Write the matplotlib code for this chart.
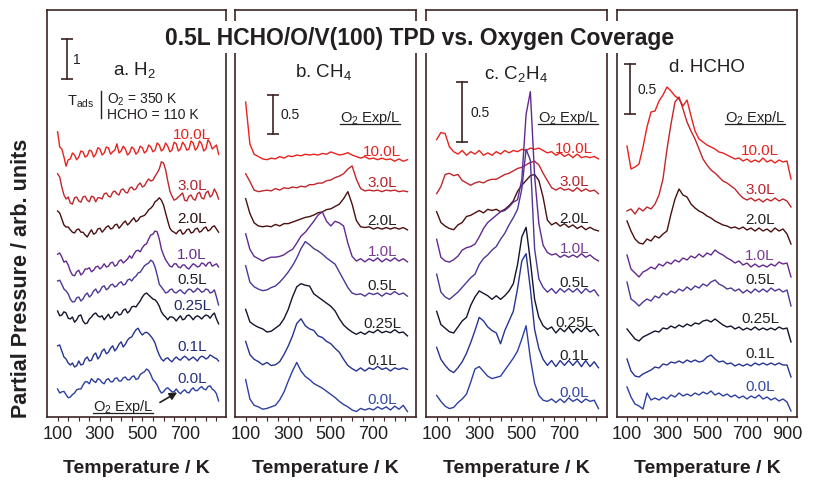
import numpy as np
import matplotlib
matplotlib.use('Agg')
import matplotlib.pyplot as plt
from matplotlib.lines import Line2D
from matplotlib.transforms import IdentityTransform

plt.rcParams['font.family'] = ['Liberation Sans', 'DejaVu Sans']
plt.rcParams['mathtext.fontset'] = 'custom'
plt.rcParams['mathtext.rm'] = 'Liberation Sans'
plt.rcParams['mathtext.it'] = 'Liberation Sans:italic'
plt.rcParams['mathtext.bf'] = 'Liberation Sans:bold'

# ---- data (signals, arb. units; offsets = stacking baseline) ----
exposures = ['10.0L', '3.0L', '2.0L', '1.0L', '0.5L', '0.25L', '0.1L', '0.0L']

T_a = np.arange(100, 861, 10)     # temperature grid for H2 (K)
T_bc = np.arange(100, 861, 20)    # temperature grid for CH4, C2H4 (K)
T_d = np.arange(100, 921, 20)     # temperature grid for HCHO (K)

# a. H2
h2_10 = [0.68,0.3,0.25,0.05,-0.18,-0.02,0,0.15,0.1,-0.02,
         0.05,0.2,0.18,0.05,0.08,0.22,0.2,0.05,0.12,0.28,
         0.25,0.1,0.15,0.3,0.28,0.12,0.18,0.22,0.38,0.15,
         0.2,0.32,0.25,0.1,0.15,0.3,0.25,0.12,0.18,0.32,
         0.28,0.15,0.2,0.35,0.3,0.18,0.22,0.4,0.35,0.2,
         0.25,0.4,0.32,0.18,0.22,0.42,0.38,0.2,0.25,0.42,
         0.35,0.22,0.25,0.45,0.4,0.22,0.28,0.45,0.38,0.2,
         0.25,0.48,0.4,0.25,0.3,0.35,0.12]
h2_3 = [0.68,0.6,0.35,0.15,0.05,0.1,-0.05,-0.08,0.08,0.1,
        0,-0.03,0.1,0.12,0.02,-0.02,0.12,0.1,-0.02,0.08,
        0.08,0.05,0.18,0.2,0.12,0.1,0.22,0.25,0.18,0.15,
        0.28,0.3,0.22,0.2,0.32,0.35,0.28,0.3,0.4,0.45,
        0.35,0.38,0.48,0.55,0.5,0.52,0.62,0.7,0.8,0.98,
        0.95,0.78,0.5,0.25,0.12,0.02,0.05,0.1,0.15,0.2,
        0.02,0,0.12,0.15,0.05,0.02,0.18,0.22,0.08,0.05,
        0.2,0.25,0.1,0.15,0.3,0.2,0.05]
h2_2 = [0.55,0.5,0.35,0.2,0.15,0.15,0.08,0.02,0,0.08,
        0.1,0.02,0.02,-0.05,-0.1,0,0.08,-0.03,0,0.1,
        0.12,0.02,0.08,0.15,0.18,0.1,0.12,0.2,0.22,0.12,
        0.18,0.25,0.3,0.2,0.25,0.32,0.38,0.28,0.32,0.4,
        0.42,0.44,0.5,0.58,0.62,0.68,0.78,0.82,0.88,0.82,
        0.7,0.5,0.3,0.12,0.05,0.02,-0.02,0.05,0.08,-0.03,
        0,0.08,0.1,0,0.02,0.1,0.12,0.02,0.05,0.12,
        0.15,0.05,0.08,0.15,0.18,0.1,0.02]
h2_1 = [0.42,0.45,0.35,0.22,0.25,0.15,0,-0.1,-0.12,-0.02,
        0.02,-0.1,-0.05,0.05,0.05,0.08,-0.02,0.02,0.1,0.12,
        0.05,0.1,0.18,0.1,0.12,0.2,0.22,0.12,0.15,0.25,
        0.28,0.2,0.25,0.3,0.38,0.32,0.42,0.5,0.52,0.48,
        0.58,0.65,0.68,0.8,0.9,0.92,1.0,0.98,0.8,0.55,
        0.4,0.28,0.2,0.12,0.1,0.18,0.18,0.1,0.08,0.15,
        0.15,0.08,0.05,0.12,0.18,0.15,0.1,0.12,0.2,0.18,
        0.12,0.2,0.22,0.12,0.15,0.18,0.1]
h2_05 = [0.4,0.42,0.32,0.2,0.15,0.08,-0.05,-0.12,-0.12,-0.02,
         0,-0.1,-0.05,0.05,0.1,0,0.05,0.15,0.2,0.1,
         0.15,0.25,0.28,0.18,0.22,0.3,0.32,0.25,0.28,0.35,
         0.38,0.3,0.32,0.42,0.45,0.4,0.48,0.52,0.6,0.62,
         0.7,0.78,0.82,0.85,0.92,0.88,0.75,0.55,0.32,0.25,
         0.18,0.1,0.12,0.18,0.2,0.12,0.1,0.15,0.18,0.12,
         0.08,0.15,0.2,0.18,0.12,0.15,0.22,0.18,0.12,0.14,
         0.2,0.18,0.1,0.12,0.18,0,-0.2]
h2_025 = [0.2,0.08,0.1,0.18,0.15,0.02,0,0.05,-0.08,-0.02,
          0.08,0.1,-0.05,-0.12,-0.1,0,0.05,0.12,0.15,0.08,
          0.05,0.08,-0.02,0.05,0.12,0.02,0.05,0.15,0.18,0.1,
          0.12,0.22,0.25,0.15,0.2,0.3,0.32,0.3,0.38,0.45,
          0.55,0.62,0.65,0.6,0.55,0.5,0.48,0.42,0.32,0.18,
          0.1,0.05,-0.02,0.05,0.05,0.02,-0.05,0.02,0.08,-0.02,
          0,0.08,0.1,0.05,-0.02,0.05,0.08,0.05,0,0.06,
          0.1,0.08,0.02,0.1,0.15,0,-0.12]
h2_01 = [0.38,0.4,0.25,0.1,0.05,-0.05,-0.1,-0.05,-0.15,-0.12,
         0,-0.1,-0.08,0.05,0.1,0,0.02,0.15,0.2,0.05,
         0.12,0.25,0.3,0.18,0.22,0.32,0.38,0.25,0.32,0.42,
         0.48,0.35,0.42,0.52,0.58,0.6,0.7,0.78,0.82,0.72,
         0.65,0.7,0.72,0.68,0.62,0.55,0.45,0.28,0.15,0.05,
         0,0.06,0.08,0.02,-0.02,0.05,0.1,0.05,0.02,0.08,
         0.12,0.08,0.02,0.06,0.1,0.05,0,0.08,0.12,0.1,
         0.05,0.08,0.15,0.12,0.08,0.06,0]
h2_00 = [0.12,0.02,0.05,0.06,-0.02,-0.1,-0.08,-0.02,0.02,0.1,
         0.12,0.12,0.22,0.3,0.3,0.25,0.38,0.32,0.28,0.38,
         0.35,0.28,0.25,0.35,0.38,0.3,0.3,0.38,0.4,0.32,
         0.32,0.4,0.42,0.35,0.35,0.42,0.45,0.36,0.38,0.48,
         0.52,0.55,0.62,0.58,0.48,0.35,0.3,0.22,0.1,0.02,
         0.05,0.12,0.15,0.1,0.05,0.05,0.12,0.05,0,0.06,
         0.1,0.04,0.02,0.1,0.15,0.08,0.08,0.14,0.18,0.12,
         0.1,0.18,0.2,0.12,0.08,0,-0.18]
h2_offsets = [6.45, 5.4, 4.6, 3.65, 3.0, 2.45, 1.4, 0.58]

# b. CH4
ch4_10 = [0.73,0.19,0.06,0.03,0,-0.01,0.01,0,0.03,0.01,0.04,0.03,0.05,0.04,0.06,0.05,0.06,0.05,0.07,0.06,0.09,0.07,0.05,0.06,0.08,0.05,0.03,0.01,0.03,0,0.01,-0.01,0.01,-0.01,0,-0.03,0,-0.03,-0.01]
ch4_3 = [0.22,0.12,0.01,-0.01,0,0.01,0,0.03,0.01,0.04,0.03,0.05,0.04,0.06,0.05,0.08,0.08,0.1,0.1,0.13,0.14,0.17,0.19,0.22,0.28,0.32,0.15,0.03,0,0.01,0,0.01,-0.01,0.01,0,0.01,-0.01,0,-0.01]
ch4_2 = [0.36,0.17,0.05,0.01,0,0.01,0,0.03,0.01,0.04,0.04,0.06,0.08,0.1,0.12,0.13,0.15,0.18,0.19,0.22,0.23,0.26,0.29,0.36,0.45,0.29,0.08,0,-0.01,0,-0.03,-0.01,-0.03,-0.01,-0.03,-0.01,-0.03,-0.01,-0.04]
ch4_1 = [0.35,0.15,0.06,0.03,0,0.03,0.05,0.05,0.06,0.08,0.12,0.15,0.23,0.32,0.37,0.44,0.51,0.59,0.63,0.51,0.45,0.51,0.49,0.45,0.23,0.06,0,0.03,-0.01,0.03,0,0.04,-0.01,0.03,0,0.04,0,0.03,-0.01]
ch4_05 = [0.36,0.15,0.09,0.06,0.04,0.05,0.08,0.1,0.15,0.21,0.28,0.36,0.46,0.58,0.67,0.63,0.58,0.55,0.51,0.46,0.42,0.38,0.28,0.18,0.08,0.01,-0.01,0,-0.03,0.01,-0.01,0.01,-0.03,0.01,-0.01,0.03,-0.01,0.01,-0.03]
ch4_025 = [0.29,0.13,0.09,0.06,0.04,0,0.01,0.05,0.09,0.17,0.29,0.45,0.58,0.62,0.6,0.59,0.49,0.45,0.41,0.37,0.33,0.27,0.17,0.09,0.04,0,-0.03,0,-0.03,0.01,-0.01,0.03,-0.01,0.01,-0.01,0.03,-0.01,0,-0.05]
ch4_01 = [0.35,0.18,0.12,0.09,0.05,0.08,0.04,0.05,0.09,0.18,0.29,0.42,0.58,0.64,0.55,0.51,0.49,0.42,0.4,0.35,0.32,0.26,0.21,0.12,0.04,0,-0.03,0.01,-0.03,0.01,-0.01,0.03,-0.01,0.01,-0.03,0.01,-0.01,0.01,-0.01]
ch4_00 = [0.38,0.13,0.05,0.03,0,0.01,0.03,0.05,0.12,0.22,0.36,0.49,0.6,0.49,0.42,0.38,0.33,0.3,0.27,0.23,0.19,0.15,0.1,0.06,0.03,-0.01,-0.03,0.01,-0.01,0.01,-0.01,0.03,0,0.03,-0.01,0.04,0,0.05,-0.03]
ch4_offsets = [3.31, 2.9, 2.44, 2.0, 1.58, 1.09, 0.62, 0.1]

# c. C2H4
c2h4_10 = [0.12,0.18,0.17,0.06,0.02,0,0.03,-0.01,0.02,0,0.03,-0.01,0.01,-0.01,0.02,0,0.03,0.01,0.03,0.02,0.04,0.03,0.05,0.04,0.05,0.03,0.01,0.02,-0.01,0.01,-0.02,0,-0.03,0,-0.03,-0.02,-0.03,-0.02,-0.04]
c2h4_3 = [-0.04,0.02,0.12,0.13,0.11,0.12,0.07,0.05,0.03,0.05,0.06,0.05,0.07,0.08,0.08,0.1,0.12,0.13,0.15,0.17,0.18,0.2,0.22,0.23,0.2,0.13,0.07,0.01,-0.01,0.01,-0.01,0,-0.02,0.01,-0.02,0,-0.02,-0.01,-0.04]
c2h4_2 = [0.12,0.03,0,-0.02,-0.03,0.01,0.03,0.08,0.09,0.11,0.13,0.11,0.14,0.13,0.14,0.12,0.14,0.17,0.21,0.29,0.34,0.38,0.42,0.43,0.38,0.24,0.05,0.01,0.03,0,0.02,-0.01,0.01,-0.02,0,-0.03,-0.01,-0.03,-0.04]
c2h4_1 = [0.14,-0.01,-0.04,-0.05,-0.03,0,0.05,0.07,0.08,0.1,0.16,0.23,0.28,0.31,0.34,0.37,0.38,0.41,0.45,0.47,0.64,1.18,1.37,0.67,0.27,0.09,0.03,0.01,0.02,-0.01,0.01,-0.01,0.01,-0.01,0.02,-0.01,0.01,-0.02,-0.04]
c2h4_05 = [0.15,0,-0.04,-0.06,-0.03,0,0.04,0.08,0.12,0.15,0.23,0.28,0.31,0.35,0.38,0.44,0.49,0.56,0.62,0.69,0.86,1.19,1.1,0.36,0.11,0.04,0,0.03,-0.01,0.03,0,0.03,0,0.03,-0.01,0.03,0,0.02,-0.03]
c2h4_025 = [0.15,0.04,0.01,-0.02,-0.03,0.02,0.07,0.1,0.2,0.27,0.32,0.3,0.28,0.25,0.28,0.25,0.28,0.32,0.38,0.54,0.77,0.85,0.57,0.25,0.1,0.03,0,0.02,-0.03,0.01,-0.02,0.02,-0.03,0.01,-0.02,0.02,-0.02,0,-0.05]
c2h4_01 = [0.14,0.04,-0.01,-0.05,-0.07,-0.03,0.02,0.09,0.18,0.28,0.39,0.36,0.31,0.28,0.26,0.17,0.28,0.36,0.44,0.63,0.86,0.92,0.63,0.29,0.13,0.04,-0.01,0.03,-0.02,0.03,-0.01,0.03,-0.01,0.03,-0.02,0.03,-0.02,0.02,-0.03]
c2h4_00 = [0.07,0.02,-0.02,-0.04,-0.03,0.01,0.04,0.08,0.18,0.29,0.31,0.27,0.23,0.21,0.22,0.23,0.28,0.33,0.38,0.44,0.54,0.65,0.38,0.17,0.07,0.03,0.02,0.04,0.01,0.04,0.01,0.05,0.02,0.04,0.01,0.04,0.02,0.03,-0.04]
c2h4_offsets = [2.19, 1.9, 1.59, 1.34, 1.04, 0.73, 0.44, 0.11]

# d. HCHO
hcho_10 = [0.23,0,0.02,0.05,0.22,0.42,0.57,0.58,0.68,0.74,0.82,0.78,0.73,0.7,0.63,0.69,0.53,0.38,0.3,0.27,0.24,0.22,0.2,0.17,0.16,0.14,0.12,0.1,0.11,0.08,0.1,0.07,0.09,0.07,0.11,0.07,0.09,0.06,0.09,0.07,0.08,-0.1]
hcho_3 = [0.01,0.03,-0.02,0.04,0.01,0.05,0.03,0.08,0.17,0.33,0.63,0.88,1.1,1.15,1.03,0.9,0.81,0.73,0.63,0.53,0.47,0.42,0.39,0.35,0.31,0.29,0.26,0.23,0.18,0.14,0.12,0.14,0.11,0.13,0.1,0.13,0.11,0.14,0.11,0.13,0.11,0.05]
hcho_2 = [0.16,0.06,-0.02,-0.06,-0.07,-0.02,-0.04,0.01,-0.01,0.03,0.06,0.23,0.38,0.48,0.42,0.4,0.33,0.29,0.26,0.24,0.21,0.19,0.16,0.14,0.12,0.11,0.09,0.1,0.08,0.1,0.07,0.09,0.06,0.09,0.06,0.08,0.05,0.09,0.06,0.08,0.03,-0.07]
hcho_1 = [0.14,0,-0.04,-0.08,-0.03,-0.01,0.02,0,0.05,0.03,0.07,0.05,0.09,0.07,0.11,0.09,0.13,0.11,0.15,0.12,0.16,0.14,0.19,0.16,0.14,0.11,0.09,0.06,0.08,0.04,0.06,0.02,0.05,0.02,0.04,0.02,0.05,0.03,0.07,0.05,0.06,-0.08]
hcho_05 = [0.17,0,-0.03,-0.07,-0.03,0,-0.02,0.03,0.01,0.06,0.04,0.08,0.06,0.1,0.08,0.12,0.09,0.13,0.11,0.15,0.13,0.17,0.19,0.15,0.13,0.1,0.11,0.08,0.1,0.06,0.09,0.06,0.1,0.07,0.1,0.07,0.11,0.08,0.1,0.07,0.09,-0.07]
hcho_025 = [0.06,0.01,-0.04,-0.06,-0.02,0,0.02,0.04,0.03,0.07,0.06,0.09,0.07,0.1,0.08,0.11,0.09,0.12,0.11,0.14,0.15,0.13,0.16,0.13,0.1,0.08,0.09,0.06,0.08,0.05,0.07,0.05,0.08,0.05,0.07,0.05,0.07,0.05,0.08,0.06,0.07,-0.07]
hcho_01 = [0.1,-0.02,-0.07,-0.08,-0.05,-0.03,-0.01,0.02,0.01,0.05,0.04,0.07,0.06,0.08,0.06,0.09,0.07,0.09,0.07,0.08,0.12,0.14,0.1,0.07,0.08,0.05,0.06,0.03,0.05,0.03,0.05,0.03,0.06,0.04,0.06,0.04,0.06,0.04,0.06,0.04,0.04,-0.08]
hcho_00 = [0.12,0.02,-0.05,-0.07,-0.1,0.06,-0.01,0.01,-0.01,0.02,0,0.04,0.02,0.06,0.03,0.05,0.03,0.06,0.04,0.07,0.05,0.08,0.04,0.06,0.03,0.05,0.02,0.04,0.01,0.03,0,0.03,0.01,0.04,0,0.02,-0.01,0.01,-0.02,0,-0.03,-0.12]
hcho_offsets = [2.48, 2.05, 1.8, 1.48, 1.18, 0.82, 0.48, 0.18]

scale_bars = [1, 0.5, 0.5, 0.5]
panel_titles = ['a. H$_2$', 'b. CH$_4$', 'c. C$_2$H$_4$', 'd. HCHO']
tick_labels_abc = [100, 300, 500, 700]
tick_labels_d = [100, 300, 500, 700, 900]

# ---- styling ----
line_colors = ['#e8221e', '#c1262b', '#4a1010', '#62298e', '#4d3796', '#12142e', '#263390', '#2d3fa0']
lab_cols_a = ['#e8221e', '#b5232a', '#2b0e0e', '#6b2c8e', '#231a2a', '#1f2a6a', '#1f2c7a', '#243285']
lab_cols = ['#e8221e', '#b5232a', '#231f20', '#7b3b93', '#231f20', '#231f20', '#231f20', '#3348a0']
frame_col = '#3d2323'
txt_col = '#231f20'

W, H = 815, 481
fig = plt.figure(figsize=(W / 100, H / 100), dpi=100)

panels = [
    dict(left=47, width=179, T=T_a, traces=[h2_10, h2_3, h2_2, h2_1, h2_05, h2_025, h2_01, h2_00],
         offsets=h2_offsets, xlim=(50, 895), ytop=10.175, ticks=np.arange(100, 851, 50),
         tl=tick_labels_abc, labT=735, labdy=0.3, labcols=lab_cols_a,
         title_xy=(0.49, 0.855), bar_T=144, bar_y=8.45, bar_lab_dT=28),
    dict(left=235, width=181, T=T_bc, traces=[ch4_10, ch4_3, ch4_2, ch4_1, ch4_05, ch4_025, ch4_01, ch4_00],
         offsets=ch4_offsets, xlim=(50, 900), ytop=5.22, ticks=np.arange(100, 851, 50),
         tl=tick_labels_abc, labT=742, labdy=0.11, labcols=lab_cols,
         title_xy=(0.49, 0.85), bar_T=229, bar_y=3.63, bar_lab_dT=33),
    dict(left=426, width=181, T=T_bc, traces=[c2h4_10, c2h4_3, c2h4_2, c2h4_1, c2h4_05, c2h4_025, c2h4_01, c2h4_00],
         offsets=c2h4_offsets, xlim=(50, 900), ytop=3.39, ticks=np.arange(100, 851, 50),
         tl=tick_labels_abc, labT=746, labdy=0.07, labcols=lab_cols,
         title_xy=(0.497, 0.845), bar_T=219, bar_y=2.29, bar_lab_dT=40),
    dict(left=617, width=180, T=T_d, traces=[hcho_10, hcho_3, hcho_2, hcho_1, hcho_05, hcho_025, hcho_01, hcho_00],
         offsets=hcho_offsets, xlim=(50, 950), ytop=4.07, ticks=np.arange(100, 901, 50),
         tl=tick_labels_d, labT=765, labdy=0.11, labcols=lab_cols,
         title_xy=(0.5, 0.86), bar_T=115, bar_y=3.03, bar_lab_dT=35),
]

axes = []
for i, p in enumerate(panels):
    ax = fig.add_axes([p['left'] / W, (H - 418) / H, p['width'] / W, 407 / H])
    axes.append(ax)
    T = p['T']
    for vals, off, col in zip(p['traces'], p['offsets'], line_colors):
        ax.plot(T, np.array(vals) + off, color=col, lw=1.0)
    # exposure labels
    for vals, off, name, lc in zip(p['traces'], p['offsets'], exposures, p['labcols']):
        win = (T >= p['labT'] - 60) & (T <= p['labT'] + 60)
        ly = off + np.median(np.array(vals)[win]) + p['labdy']
        ax.text(p['labT'], ly, name, color=lc, fontsize=11, ha='center', va='center')
    ax.set_xlim(*p['xlim'])
    ax.set_ylim(0, p['ytop'])
    ax.set_yticks([])
    ax.set_xticks(p['ticks'])
    ax.set_xticklabels([str(t) if t in p['tl'] else '' for t in p['ticks']])
    ax.tick_params(axis='x', direction='out', length=3, width=0.8, color=frame_col,
                   labelsize=13, labelcolor=txt_col, pad=3)
    for s in ax.spines.values():
        s.set_color(frame_col)
        s.set_linewidth(1.2)
    ax.set_xlabel('Temperature / K', fontsize=14, fontweight='bold', color=txt_col, labelpad=12)
    ax.text(p['title_xy'][0], p['title_xy'][1], panel_titles[i], transform=ax.transAxes,
            fontsize=13.5, ha='center', va='center', color=txt_col)
    # scale bar
    sb = scale_bars[i]
    ax.plot([p['bar_T'], p['bar_T']], [p['bar_y'], p['bar_y'] + sb], color=frame_col, lw=1.2,
            marker='_', ms=9, mew=1.2)
    ax.text(p['bar_T'] + p['bar_lab_dT'], p['bar_y'] + sb / 2, str(sb), fontsize=10,
            ha='left', va='center', color=txt_col)

# O2 exposure headers (underlined)
o2_texts = []
o2_texts.append(axes[0].text(0.425, 0.027, 'O$_2$ Exp/L', transform=axes[0].transAxes,
                             fontsize=10.5, ha='center', va='center', color=txt_col))
for ax, xf in zip(axes[1:], [0.746, 0.785, 0.767]):
    o2_texts.append(ax.text(xf, 0.737, 'O$_2$ Exp/L', transform=ax.transAxes,
                            fontsize=10.5, ha='center', va='center', color=txt_col))
axes[0].annotate('', xy=(676, 0.65), xytext=(572, 0.33),
                 arrowprops=dict(arrowstyle='-|>', color=txt_col, lw=1.2, mutation_scale=11))

# adsorption temperatures
a0 = axes[0]
a0.text(0.19, 0.776, 'T$_{\\mathrm{ads}}$', transform=a0.transAxes, fontsize=10.5,
        ha='center', va='center', color=txt_col)
a0.plot([0.302, 0.302], [0.735, 0.8], transform=a0.transAxes, color=txt_col, lw=1.0)
a0.text(0.335, 0.781, 'O$_2$ = 350 K', transform=a0.transAxes, fontsize=10,
        ha='left', va='center', color=txt_col)
a0.text(0.335, 0.745, 'HCHO = 110 K', transform=a0.transAxes, fontsize=10,
        ha='left', va='center', color=txt_col)

fig.text(22 / W, 1 - 278 / H, 'Partial Pressure / arb. units', rotation=90, fontsize=15.5,
         fontweight='bold', ha='center', va='center', color=txt_col)
fig.text(420 / W, 1 - 38 / H, '0.5L HCHO/O/V(100) TPD vs. Oxygen Coverage', fontsize=16.5,
         fontweight='bold', ha='center', va='center', color=txt_col,
         bbox=dict(boxstyle='square,pad=0.2', fc='white', ec='none'))

# underline the O2 headers
fig.canvas.draw()
for t in o2_texts:
    bb = t.get_window_extent()
    fig.add_artist(Line2D([bb.x0, bb.x1], [bb.y0 + 2, bb.y0 + 2], transform=IdentityTransform(),
                          color=txt_col, lw=0.9))

fig.savefig('out.png', dpi=100)
